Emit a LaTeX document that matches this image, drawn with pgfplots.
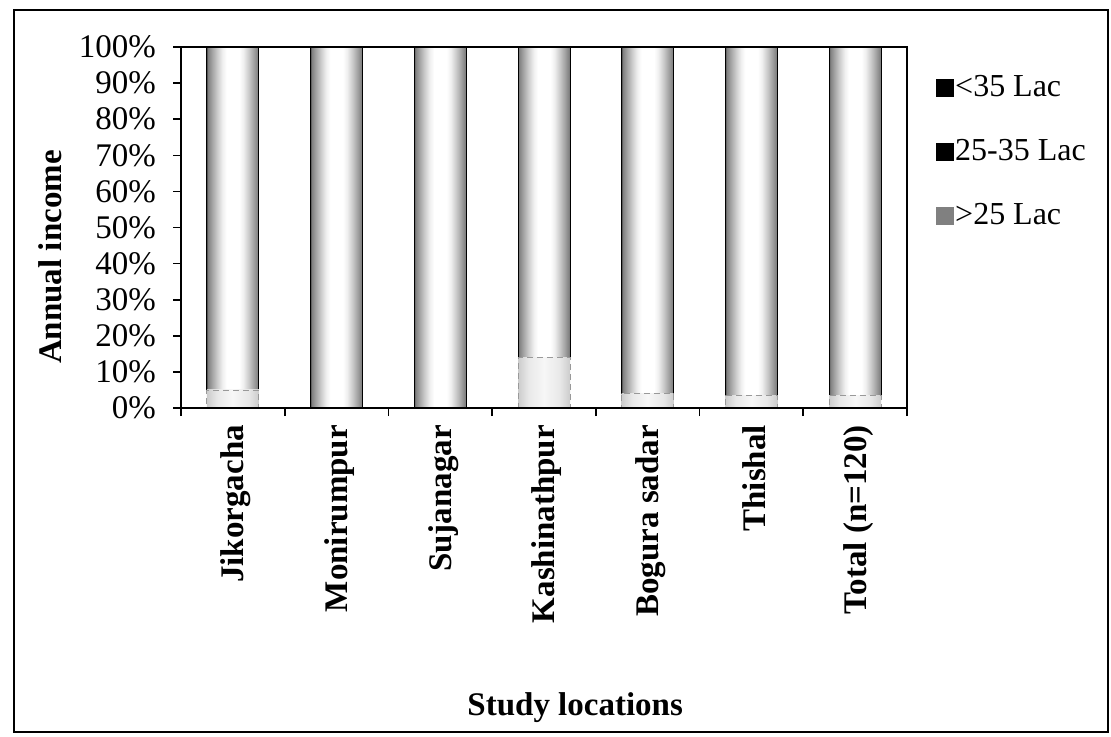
\documentclass[border=0pt]{standalone}
\usepackage{fontspec}
\setmainfont{Liberation Serif}
\usepackage{pgfplots}
\pgfplotsset{compat=1.18}
\pgfdeclarehorizontalshading{barshade}{100bp}{color(0bp)=(black!70); color(25bp)=(black!70); color(26bp)=(black!50); color(30bp)=(black!36); color(35bp)=(black!20); color(40bp)=(black!6); color(44bp)=(white); color(56bp)=(white); color(60bp)=(black!6); color(65bp)=(black!20); color(70bp)=(black!36); color(74bp)=(black!50); color(75bp)=(black!70); color(100bp)=(black!70)}
\pgfdeclarehorizontalshading{lowshade}{100bp}{color(0bp)=(black!20); color(25bp)=(black!20); color(35bp)=(black!9); color(50bp)=(black!3); color(65bp)=(black!9); color(75bp)=(black!20); color(100bp)=(black!20)}
\pgfplotsset{
  baseax/.style={
    at={(90.5pt,164pt)}, anchor=south west,
    scale only axis, width=363pt, height=180.5pt,
    xmin=-0.5, xmax=6.5, ymin=0, ymax=100,
    enlarge x limits=false, enlarge y limits=false,
  },
  lowstyle/.style={draw=black!40, densely dashed, shade, shading=lowshade},
  midstyle/.style={draw=black, solid, shade, shading=barshade},
}
% one stacked bar: location index, >25 Lac share, 25-35 Lac share (<35 Lac = 0)
\newcommand\locbar[3]{%
  \begin{axis}[baseax, hide axis, ybar stacked, bar width=26pt]
  \addplot[lowstyle] coordinates {(#1,#2)};
  \addplot[midstyle] coordinates {(#1,#3)};
  \addplot[draw=none, fill=black] coordinates {(#1,0)};
  \end{axis}%
}
\begin{document}
\begin{tikzpicture}
\useasboundingbox (0,0) rectangle (555.5pt,368pt);
\draw[line width=0.8pt] (7pt,2pt) rectangle (554pt,363pt);
\locbar{0}{5}{95}
\locbar{1}{0}{100}
\locbar{2}{0}{100}
\locbar{3}{14}{86}
\locbar{4}{4}{96}
\locbar{5}{3.5}{96.5}
\locbar{6}{3.5}{96.5}
\begin{axis}[
  baseax,
  axis line style={line width=0.8pt},
  tick align=outside, tick pos=left,
  major tick length=4pt,
  every tick/.style={line width=0.8pt, black},
  xtick={-0.5,0.5,...,6.5}, xticklabels={},
  extra x ticks={0,1,...,6},
  extra x tick labels={Jikorgacha,Monirumpur,Sujanagar,Kashinathpur,Bogura sadar,Thishal,Total (n=120)},
  extra x tick style={major tick length=0pt, tick label style={yshift=-5pt, xshift=1.5pt, rotate=90, anchor=east, font=\fontsize{16.5}{19}\selectfont\bfseries}},
  ytick={0,10,...,100},
  yticklabel={\pgfmathprintnumber{\tick}\%},
  /pgf/number format/assume math mode=true,
  yticklabel style={xshift=-5pt, font=\fontsize{16.5}{19}\selectfont},
  ylabel={Annual income},
  ylabel style={font=\fontsize{16.5}{19}\selectfont\bfseries, at={(axis description cs:-0.1804,0.418)}, anchor=center},
  xlabel={Study locations},
  xlabel style={font=\fontsize{16.5}{19}\selectfont\bfseries, at={(axis description cs:0.543,-0.831)}, anchor=center},
  legend cell align=left,
  legend style={draw=none, fill=none, at={(1,1)}, anchor=north west, xshift=11.5pt, yshift=-10pt, row sep=16pt,
    font=\fontsize{16}{19}\selectfont, /tikz/every odd column/.append style={column sep=-1.5pt}},
]
\addlegendimage{legend image code/.code={\fill[black] (0pt,-4.25pt) rectangle (8.5pt,4.25pt);}}
\addlegendentry{<35 Lac}
\addlegendimage{legend image code/.code={\fill[black] (0pt,-4.25pt) rectangle (8.5pt,4.25pt);}}
\addlegendentry{25-35 Lac}
\addlegendimage{legend image code/.code={\fill[black!50] (0pt,-4.25pt) rectangle (8.5pt,4.25pt);}}
\addlegendentry{>25 Lac}
\end{axis}
\end{tikzpicture}
\end{document}
